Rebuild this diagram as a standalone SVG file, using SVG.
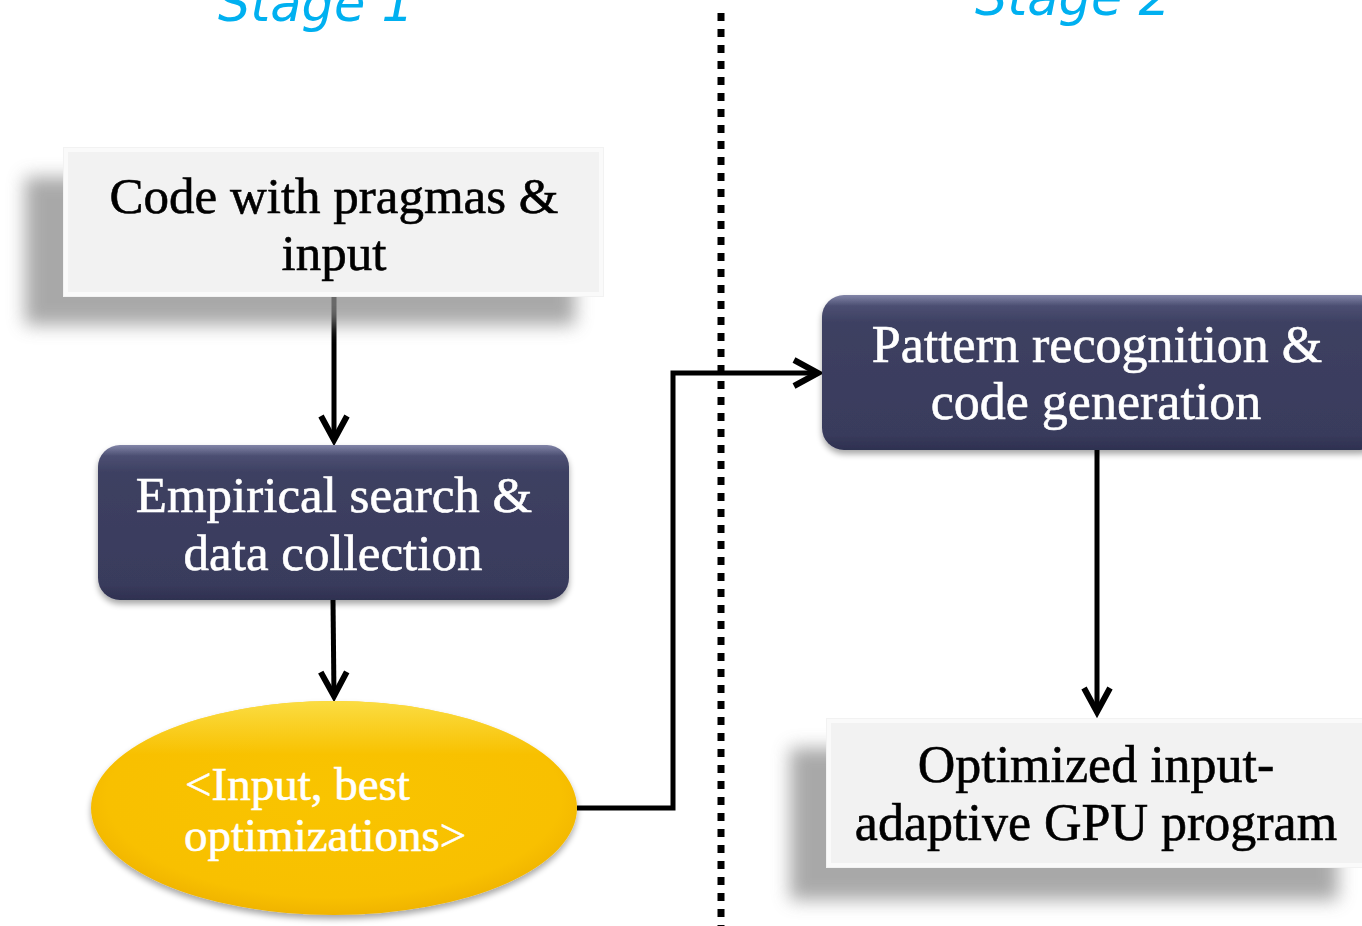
<svg xmlns="http://www.w3.org/2000/svg" width="1362" height="926" viewBox="0 0 1362 926">
  <defs>
    <style>
      .title { font-family: "DejaVu Sans", Verdana, sans-serif; font-style: italic; font-size: 51px; fill: #00B0F0; text-anchor: middle; }
      .lbl { font-family: "Liberation Serif", "Times New Roman", serif; font-size: 51px; text-anchor: middle; stroke-width: 0.6; }
      .dark { fill: #000000; stroke: #000000; }
      .light { fill: #FFFFFF; stroke: #FFFFFF; }
      .conn { fill: none; stroke: #000000; stroke-width: 5; }
      .grey { fill: #F2F2F2; }
      .navy { fill: url(#navyGrad); }
    </style>
    <linearGradient id="navyGrad" x1="0" y1="0" x2="0" y2="1">
      <stop offset="0" stop-color="#8285A8"/>
      <stop offset="0.07" stop-color="#4C4F72"/>
      <stop offset="0.18" stop-color="#3D4062"/>
      <stop offset="0.9" stop-color="#393B5C"/>
      <stop offset="1" stop-color="#2E3050"/>
    </linearGradient>
    <radialGradient id="goldGrad" cx="0.5" cy="0.45" r="0.55">
      <stop offset="0" stop-color="#F9C406"/>
      <stop offset="0.85" stop-color="#F8C000"/>
      <stop offset="1" stop-color="#F0B400"/>
    </radialGradient>
    <linearGradient id="goldTop" x1="0" y1="0" x2="0" y2="1">
      <stop offset="0" stop-color="#FBE04A" stop-opacity="0.9"/>
      <stop offset="0.25" stop-color="#FBE04A" stop-opacity="0"/>
    </linearGradient>
    <filter id="softShadow" x="-20%" y="-30%" width="140%" height="160%">
      <feGaussianBlur stdDeviation="9"/>
    </filter>
    <filter id="dropShadow" x="-10%" y="-20%" width="120%" height="150%">
      <feGaussianBlur in="SourceAlpha" stdDeviation="3"/>
      <feOffset dx="0" dy="4"/>
      <feComponentTransfer><feFuncA type="linear" slope="0.35"/></feComponentTransfer>
      <feMerge><feMergeNode/><feMergeNode in="SourceGraphic"/></feMerge>
    </filter>
    <marker id="chevron" markerUnits="userSpaceOnUse" markerWidth="40" markerHeight="40" refX="28" refY="16" orient="auto">
      <path d="M3,3 L27,16 L3,29" fill="none" stroke="#000000" stroke-width="6" stroke-linejoin="miter"/>
    </marker>
  </defs>

  <rect x="0" y="0" width="1362" height="926" fill="#FFFFFF"/>

  <!-- stage titles and divider -->
  <g id="titles">
    <text class="title" x="316" y="21">Stage 1</text>
    <text class="title" x="1073" y="15">Stage 2</text>
  </g>
  <line id="divider" x1="721" y1="13" x2="721" y2="926" stroke="#000000" stroke-width="7" stroke-dasharray="8 8"/>

  <!-- connectors -->
  <g id="connectors">
    <path class="conn" d="M334,297 L334,441" marker-end="url(#chevron)"/>
    <path class="conn" d="M333,600 L334,697" marker-end="url(#chevron)"/>
    <path class="conn" d="M577,808 L673,808 L673,373 L819,373" marker-end="url(#chevron)"/>
    <path class="conn" d="M1097,450 L1097,713" marker-end="url(#chevron)"/>
  </g>

  <!-- Code with pragmas & input -->
  <g id="node-code">
    <rect x="25" y="177" width="550" height="148" fill="#8C8C8C" opacity="0.75" filter="url(#softShadow)"/>
    <rect class="grey" x="63" y="147" width="541" height="150"/>
    <rect x="66" y="150" width="535" height="144" fill="none" stroke="#FAFAFA" stroke-width="4"/>
    <text class="lbl dark" x="334" y="213">Code with pragmas &amp;</text>
    <text class="lbl dark" x="334" y="270">input</text>
  </g>

  <!-- Empirical search & data collection -->
  <g id="node-search">
    <rect class="navy" x="98" y="445" width="471" height="155" rx="22" ry="22" filter="url(#dropShadow)"/>
    <text class="lbl light" x="334" y="512">Empirical search &amp;</text>
    <text class="lbl light" x="333" y="570">data collection</text>
  </g>

  <!-- <Input, best optimizations> -->
  <g id="node-result">
    <ellipse cx="334" cy="808" rx="243" ry="107" fill="url(#goldGrad)" filter="url(#dropShadow)"/>
    <ellipse cx="334" cy="808" rx="243" ry="107" fill="url(#goldTop)"/>
    <text class="lbl light" x="185" y="800" style="text-anchor:start;font-size:47px">&lt;Input, best</text>
    <text class="lbl light" x="184" y="851" style="text-anchor:start;font-size:47px">optimizations&gt;</text>
  </g>

  <!-- Pattern recognition & code generation -->
  <g id="node-pattern">
    <rect class="navy" x="822" y="295" width="560" height="155" rx="22" ry="22" filter="url(#dropShadow)"/>
    <text class="lbl light" x="1097" y="362" style="font-size:52px">Pattern recognition &amp;</text>
    <text class="lbl light" x="1096" y="419" style="font-size:52px">code generation</text>
  </g>

  <!-- Optimized input-adaptive GPU program -->
  <g id="node-program">
    <rect x="790" y="748" width="548" height="152" fill="#8C8C8C" opacity="0.75" filter="url(#softShadow)"/>
    <rect class="grey" x="826" y="718" width="540" height="150"/>
    <rect x="829" y="721" width="540" height="144" fill="none" stroke="#FAFAFA" stroke-width="4"/>
    <text class="lbl dark" x="1096" y="782" style="font-size:52px">Optimized input-</text>
    <text class="lbl dark" x="1096" y="840" style="font-size:52px">adaptive GPU program</text>
  </g>
</svg>
